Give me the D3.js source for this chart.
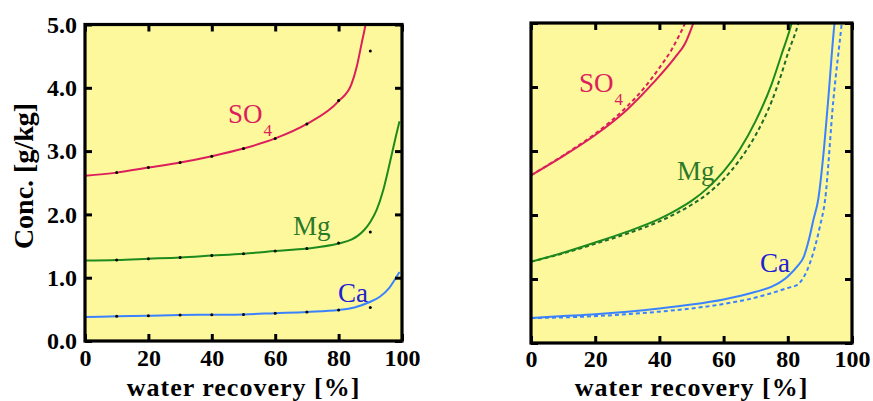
<!DOCTYPE html>
<html>
<head>
<meta charset="utf-8">
<script src="https://cdn.jsdelivr.net/npm/d3@7"></script>
<style>
  html, body { margin: 0; padding: 0; background: #ffffff; }
  svg { display: block; }
  text { font-family: "Liberation Serif", "Times New Roman", serif; }
</style>
</head>
<body>
<svg id="chart" width="873" height="401"></svg>
<script>
// ---- data -------------------------------------------------------------
const xTicks = [0, 20, 40, 60, 80, 100];
const yTicks = [0, 1, 2, 3, 4, 5];
const yTickLabels = ["0.0", "1.0", "2.0", "3.0", "4.0", "5.0"];

// left panel: measured points (every 10 %)
const dotRecovery = [10, 20, 30, 40, 50, 60, 70, 80, 90];
const so4Dots = [2.66, 2.74, 2.82, 2.92, 3.04, 3.20, 3.43, 3.80, 4.58];
const mgDots  = [1.28, 1.30, 1.32, 1.35, 1.38, 1.42, 1.46, 1.55, 1.72];
const caDots  = [0.39, 0.40, 0.41, 0.415, 0.42, 0.44, 0.46, 0.49, 0.53];

// left panel: fitted curves
const so4LeftX = [0, 10, 20, 30, 40, 50, 60, 70, 80, 84, 85.7, 87.3, 88.5, 89];
const so4LeftY = [2.61, 2.66, 2.74, 2.82, 2.92, 3.04, 3.20, 3.43, 3.79, 4.05, 4.33, 4.71, 5.0, 5.15];
const mgLeftX  = [0, 10, 20, 30, 40, 50, 60, 70, 80, 84, 86, 88, 90, 92, 94, 96, 98, 99.2];
const mgLeftY  = [1.27, 1.28, 1.30, 1.32, 1.35, 1.38, 1.42, 1.46, 1.54, 1.60, 1.66, 1.75, 1.88, 2.07, 2.37, 2.78, 3.22, 3.47];
const caLeftX  = [0, 10, 20, 30, 40, 50, 60, 70, 80, 85, 90, 93, 96, 98, 99.2];
const caLeftY  = [0.38, 0.39, 0.40, 0.41, 0.415, 0.42, 0.44, 0.46, 0.49, 0.53, 0.62, 0.70, 0.84, 0.99, 1.09];

// right panel: solid and dashed curves
const so4SolidX  = [0, 10, 20, 30, 38, 45, 48, 50.6, 51.2];
const so4SolidY  = [2.62, 2.92, 3.25, 3.65, 4.06, 4.47, 4.68, 5.0, 5.08];
const so4DashX   = [0, 10, 20, 30, 35, 40, 44, 46, 48, 48.6];
const so4DashY   = [2.62, 2.93, 3.27, 3.70, 3.97, 4.30, 4.60, 4.79, 5.0, 5.08];
const mgSolidX   = [0, 10, 20, 30, 40, 45, 50, 55, 60, 65, 70, 75, 78, 81.2, 81.8];
const mgSolidY   = [1.27, 1.41, 1.57, 1.74, 1.94, 2.07, 2.22, 2.42, 2.68, 3.02, 3.47, 4.05, 4.5, 5.0, 5.12];
const mgDashX    = [0, 10, 20, 30, 40, 45, 50, 55, 60, 65, 70, 75, 78, 80, 83.3, 83.9];
const mgDashY    = [1.27, 1.40, 1.55, 1.71, 1.90, 2.02, 2.16, 2.33, 2.56, 2.86, 3.25, 3.78, 4.2, 4.52, 5.0, 5.12];
const caSolidX   = [0, 10, 20, 30, 40, 50, 60, 70, 75, 80, 83, 85, 86.5, 88, 89.5, 91, 92.5, 94.5, 95];
const caSolidY   = [0.39, 0.42, 0.45, 0.49, 0.54, 0.60, 0.68, 0.80, 0.88, 1.04, 1.20, 1.35, 1.60, 1.93, 2.25, 2.9, 3.75, 4.97, 5.2];
const caDashX    = [0, 10, 20, 30, 40, 50, 60, 70, 75, 80, 83, 86.9, 90, 91.6, 94.2, 96.8, 97.2];
const caDashY    = [0.39, 0.40, 0.42, 0.45, 0.49, 0.54, 0.61, 0.71, 0.78, 0.86, 0.91, 1.25, 1.82, 2.23, 3.8, 5.0, 5.2];

// ---- styles -------------------------------------------------------------
const plotBg = "#fdf89b";
const colSO4 = "#dc1f5c";
const colMg = "#1d8a1d";
const colMgText = "#2a7a2a";
const colMgDash = "#1f6a2a";
const colCa = "#3a82ff";
const colCaText = "#1f22d4";

const svg = d3.select("#chart");

function zip(xs, ys) { return xs.map((x, i) => [x, ys[i]]); }

function panel(id, box, showYLabels) {
  const x = d3.scaleLinear().domain([0, 100]).range([box.left, box.right]);
  const y = d3.scaleLinear().domain([0, 5]).range([box.bottom, box.top]);
  const g = svg.append("g").attr("id", id);

  g.append("rect")
    .attr("x", box.left).attr("y", box.top)
    .attr("width", box.right - box.left).attr("height", box.bottom - box.top)
    .attr("fill", plotBg);

  g.append("clipPath").attr("id", id + "-clip")
    .append("rect")
    .attr("x", box.left).attr("y", box.top)
    .attr("width", box.right - box.left).attr("height", box.bottom - box.top);

  const plot = g.append("g").attr("clip-path", `url(#${id}-clip)`);

  // axes with inward ticks on all four sides
  const tickStyle = sel => {
    sel.select(".domain").remove();
    sel.selectAll(".tick line").attr("stroke", "#000").attr("stroke-width", 3);
    sel.selectAll("text")
      .attr("font-family", "Liberation Serif, serif")
      .attr("font-weight", "bold")
      .attr("font-size", 24)
      .attr("fill", "#000");
  };

  g.append("g").attr("transform", `translate(0,${box.bottom})`)
    .call(d3.axisBottom(x).tickValues(xTicks).tickSize(-7).tickPadding(box.xPad).tickFormat(d3.format("d")))
    .call(tickStyle);
  g.append("g").attr("transform", `translate(0,${box.top})`)
    .call(d3.axisTop(x).tickValues(xTicks).tickSize(-7).tickFormat(""))
    .call(tickStyle);
  g.append("g").attr("transform", `translate(${box.left},0)`)
    .call(d3.axisLeft(y).tickValues(yTicks).tickSize(-7).tickPadding(8)
      .tickFormat((d, i) => showYLabels ? yTickLabels[i] : ""))
    .call(tickStyle);
  g.append("g").attr("transform", `translate(${box.right},0)`)
    .call(d3.axisRight(y).tickValues(yTicks).tickSize(-7).tickFormat(""))
    .call(tickStyle);

  g.append("rect")
    .attr("x", box.left).attr("y", box.top)
    .attr("width", box.right - box.left).attr("height", box.bottom - box.top)
    .attr("fill", "none").attr("stroke", "#000").attr("stroke-width", 3.2);

  // x title
  g.append("text")
    .attr("x", (box.left + box.right) / 2).attr("y", box.titleY)
    .attr("text-anchor", "middle")
    .attr("font-weight", "bold").attr("font-size", 26)
    .attr("letter-spacing", 1)
    .text("water recovery [%]");

  const line = d3.line().x(d => x(d[0])).y(d => y(d[1])).curve(d3.curveMonotoneX);
  return { x, y, g, plot, line };
}

function label(g, px, py, main, sub, color) {
  const t = g.append("text")
    .attr("x", px).attr("y", py)
    .attr("font-size", 27).attr("fill", color);
  t.append("tspan").text(main);
  if (sub) {
    t.append("tspan").attr("font-size", 17).attr("dx", 1).attr("dy", 13).text(sub);
  }
}

// ---- left panel -----------------------------------------------------------
const L = panel("left", { left: 85, right: 402, top: 24.5, bottom: 341, titleY: 395.5, xPad: 8 }, true);

[[so4LeftX, so4LeftY, colSO4], [mgLeftX, mgLeftY, colMg], [caLeftX, caLeftY, colCa]]
  .forEach(([xs, ys, c]) => {
    L.plot.append("path").datum(zip(xs, ys))
      .attr("d", L.line).attr("fill", "none")
      .attr("stroke", c).attr("stroke-width", 2);
  });

[so4Dots, mgDots, caDots].forEach(vals => {
  L.plot.selectAll(null).data(zip(dotRecovery, vals)).enter().append("circle")
    .attr("cx", d => L.x(d[0])).attr("cy", d => L.y(d[1]))
    .attr("r", 1.5).attr("fill", "#000");
});

label(L.g, 228, 123, "SO", "4", colSO4);
label(L.g, 293, 235, "Mg", null, colMgText);
label(L.g, 338, 301.5, "Ca", null, colCaText);

// y title
svg.append("text")
  .attr("transform", "translate(23,176) rotate(-90)")
  .attr("text-anchor", "middle").attr("dy", "0.35em")
  .attr("font-weight", "bold").attr("font-size", 28)
  .text("Conc. [g/kg]");

// ---- right panel ----------------------------------------------------------
const R = panel("right", { left: 531, right: 852, top: 23, bottom: 343, titleY: 395.5, xPad: 6.5 }, false);

[
  [so4DashX, so4DashY, colSO4, true], [so4SolidX, so4SolidY, colSO4, false],
  [mgDashX, mgDashY, colMgDash, true], [mgSolidX, mgSolidY, colMg, false],
  [caDashX, caDashY, colCa, true], [caSolidX, caSolidY, colCa, false]
].forEach(([xs, ys, c, dashed]) => {
  R.plot.append("path").datum(zip(xs, ys))
    .attr("d", R.line).attr("fill", "none")
    .attr("stroke", c).attr("stroke-width", 2)
    .attr("stroke-dasharray", dashed ? "4,3" : null);
});

label(R.g, 579, 92, "SO", "4", colSO4);
label(R.g, 677, 180, "Mg", null, colMgText);
label(R.g, 760, 271.5, "Ca", null, colCaText);
</script>
</body>
</html>
